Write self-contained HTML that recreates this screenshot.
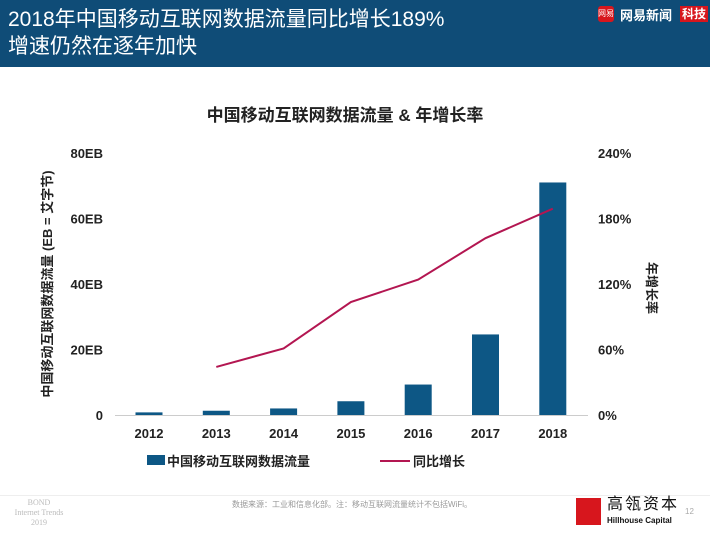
<!DOCTYPE html>
<html><head><meta charset="utf-8"><style>
body{margin:0;width:710px;height:533px;background:#fff;font-family:"Liberation Sans","Noto Sans CJK SC",sans-serif;overflow:hidden;position:relative}
.hdr{position:absolute;left:0;top:0;width:710px;height:67px;background:#0f4c77}
.t{position:absolute;left:8px;color:#fff;font-size:21px;line-height:26px}
</style></head><body>
<div class="hdr">
<div class="t" style="top:7px">2018年中国移动互联网数据流量同比增长189%</div>
<div class="t" style="top:34px">增速仍然在逐年加快</div>
<div style="position:absolute;left:598px;top:6px;width:16px;height:16px;background:#d7161d;border-radius:3px;color:#fff;font-size:8px;text-align:center;line-height:16px">网易</div>
<div style="position:absolute;left:620px;top:5px;color:#fff;font-size:13px;font-weight:bold">网易新闻</div>
<div style="position:absolute;left:680px;top:6px;background:#d7161d;color:#fff;font-size:12px;font-weight:bold;padding:0 2px;line-height:16px">科技</div>
</div>
<svg id="c" width="710" height="533" style="position:absolute;left:0;top:0"></svg>
<div style="position:absolute;left:0;top:495px;width:710px;height:1px;background:#eee"></div>
<div style="position:absolute;left:14px;top:498px;width:50px;text-align:center;color:#bbb;font-family:'Liberation Serif',serif;font-size:8px;line-height:10px">BOND<br>Internet Trends<br>2019</div>
<div style="position:absolute;left:232px;top:499px;color:#999;font-size:8px">数据来源：工业和信息化部。注：移动互联网流量统计不包括WiFi。</div>
<div style="position:absolute;left:576px;top:498px;width:25px;height:27px;background:#d7161d"></div>
<div style="position:absolute;left:607px;top:496px;font-size:16px;line-height:18px;color:#111;letter-spacing:2px">高瓴资本</div>
<div style="position:absolute;left:607px;top:516px;font-size:8px;line-height:10px;font-weight:bold;color:#111">Hillhouse Capital</div>
<div style="position:absolute;left:685px;top:507px;font-size:8px;color:#aaa">12</div>
<script>
const years=["2012","2013","2014","2015","2016","2017","2018"];
const traffic=[0.8,1.3,2.0,4.2,9.3,24.6,71];
const growth=[null,44,61,103.5,124,162,189];
const leftTicks=["0","20EB","40EB","60EB","80EB"];
const leftTickVals=[0,20,40,60,80];
const rightTicks=["0%","60%","120%","180%","240%"];
const rightTickVals=[0,60,120,180,240];
const svg=document.getElementById('c');const NS="http://www.w3.org/2000/svg";
function el(t,a,txt){const e=document.createElementNS(NS,t);for(const k in a)e.setAttribute(k,a[k]);if(txt!=null)e.textContent=txt;svg.appendChild(e);return e;}
const y0=415,y1=153;
const yL=v=>y0-(v/80)*(y0-y1);
const yR=v=>y0-(v/240)*(y0-y1);
const x=i=>149+i*67.3;
let e=el('text',{x:345,y:121,'text-anchor':'middle','font-size':17,'font-weight':'bold',fill:'#222'},'中国移动互联网数据流量 & 年增长率');


leftTickVals.forEach((v,i)=>{e=el('text',{x:103,y:yL(v)+5,'text-anchor':'end','font-size':13,'font-weight':'bold',fill:'#222'},leftTicks[i]);

});
rightTickVals.forEach((v,i)=>{e=el('text',{x:598,y:yR(v)+5,'font-size':13,'font-weight':'bold',fill:'#222'},rightTicks[i]);

});
e=el('text',{x:0,y:0,transform:'translate(52,284) rotate(-90)','text-anchor':'middle','font-size':13,'font-weight':'bold',fill:'#222'},'中国移动互联网数据流量 (EB = 艾字节)');


e=el('text',{x:0,y:0,transform:'translate(647,288) rotate(90)','text-anchor':'middle','font-size':13,'font-weight':'bold',fill:'#222'},'年增长率');


traffic.forEach((v,i)=>{e=el('rect',{x:x(i)-13.5,y:yL(v),width:27,height:y0-yL(v),fill:'#0d5785'});

});
e=el('line',{x1:115,x2:588,y1:y0+0.5,y2:y0+0.5,stroke:'#ccc'});
years.forEach((yr,i)=>{e=el('text',{x:x(i),y:438,'text-anchor':'middle','font-size':13,'font-weight':'bold',fill:'#222'},yr);

});
let pts=[];growth.forEach((g,i)=>{if(g!=null)pts.push(x(i)+','+yR(g));});
e=el('polyline',{points:pts.join(' '),fill:'none',stroke:'#b31651','stroke-width':2});


e=el('rect',{x:147,y:455,width:18,height:10,fill:'#0d5785'});


e=el('text',{x:167,y:466,'font-size':13,'font-weight':'bold',fill:'#222'},'中国移动互联网数据流量');


e=el('line',{x1:380,x2:410,y1:461,y2:461,stroke:'#b31651','stroke-width':2});


e=el('text',{x:413,y:466,'font-size':13,'font-weight':'bold',fill:'#222'},'同比增长');


</script>
</body></html>
